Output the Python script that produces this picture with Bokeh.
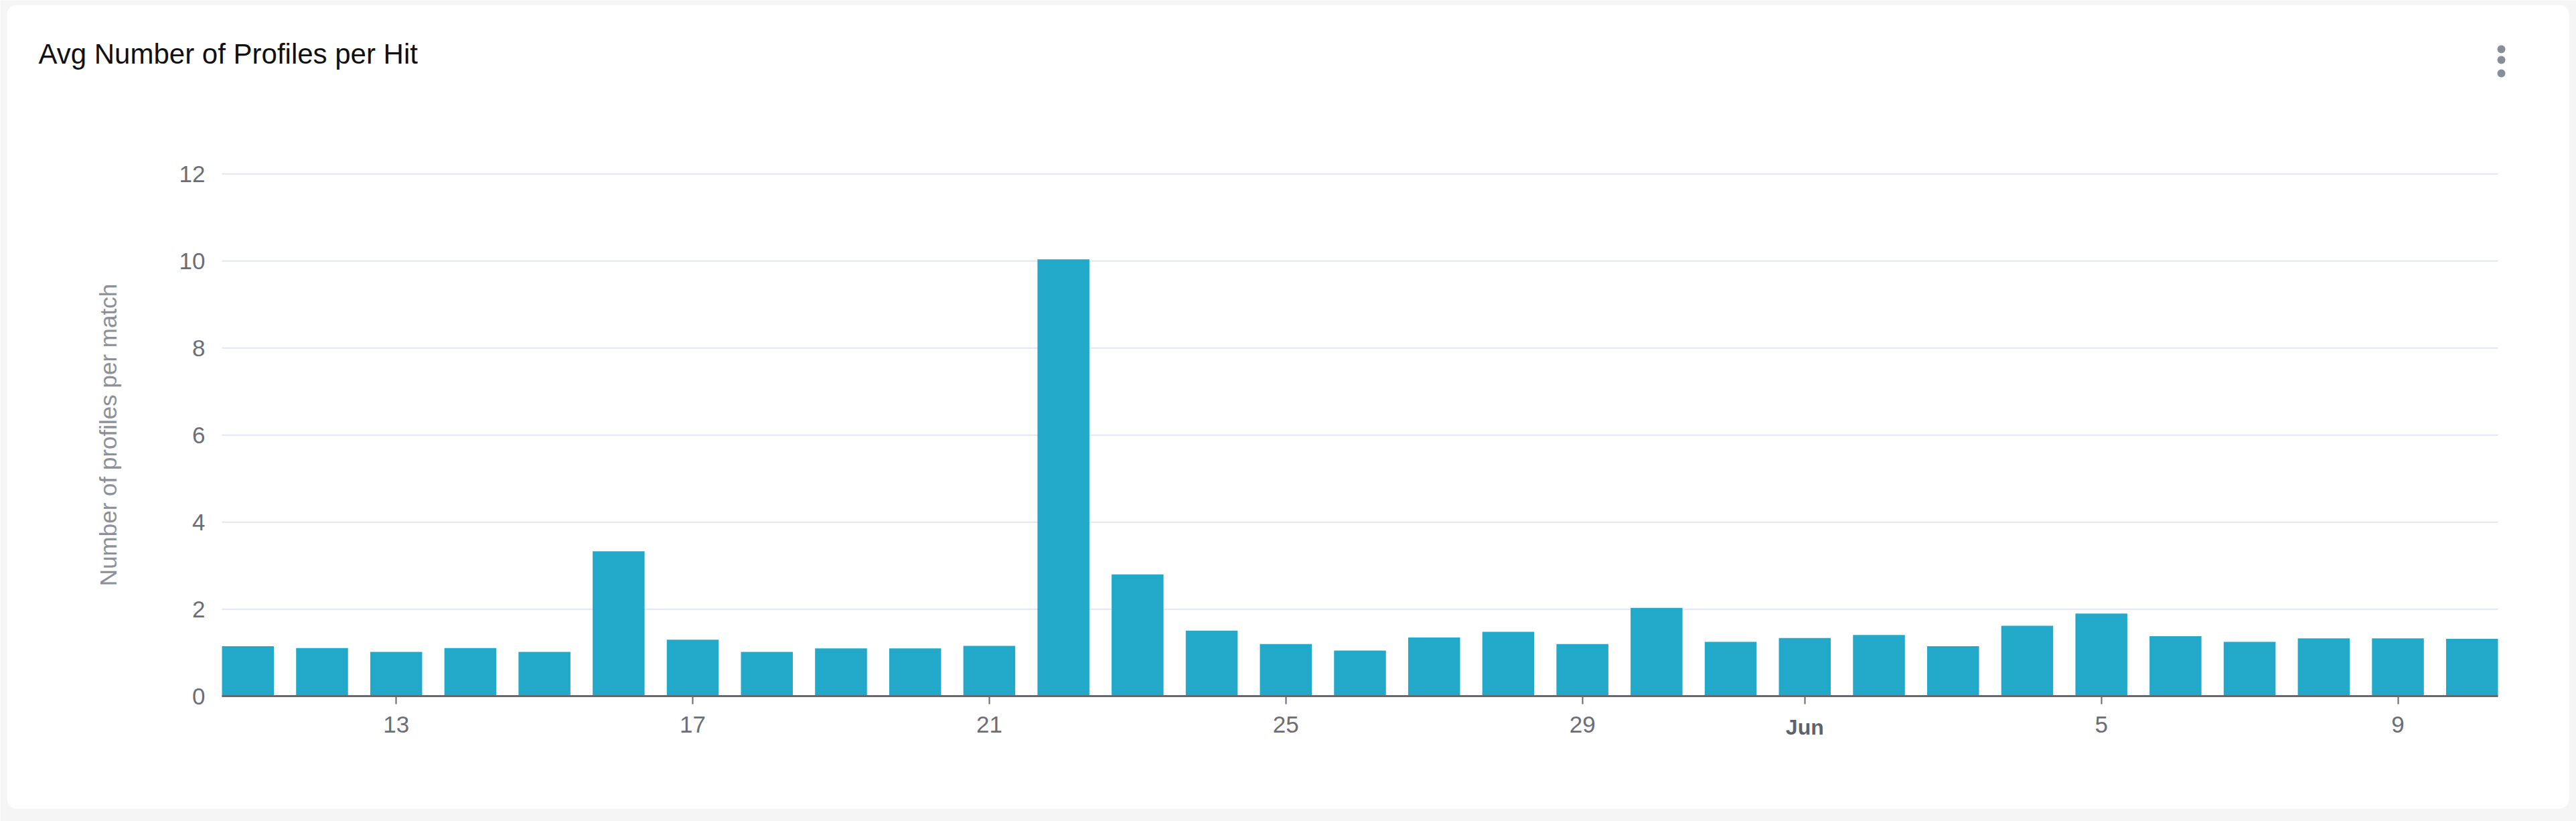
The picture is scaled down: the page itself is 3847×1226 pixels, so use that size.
import math
import pandas as pd
from bokeh.plotting import figure
from bokeh.models import (ColumnDataSource, Range1d, FixedTicker, Label,
                          LinearAxis, BoxAnnotation)
from bokeh.embed import file_html
from bokeh.resources import INLINE

# ---- data -------------------------------------------------------------
dates = [
    "2019-05-11", "2019-05-12", "2019-05-13", "2019-05-14", "2019-05-15",
    "2019-05-16", "2019-05-17", "2019-05-18", "2019-05-19", "2019-05-20",
    "2019-05-21", "2019-05-22", "2019-05-23", "2019-05-24", "2019-05-25",
    "2019-05-26", "2019-05-27", "2019-05-28", "2019-05-29", "2019-05-30",
    "2019-05-31", "2019-06-01", "2019-06-02", "2019-06-03", "2019-06-04",
    "2019-06-05", "2019-06-06", "2019-06-07", "2019-06-08", "2019-06-09",
    "2019-06-10",
]
profiles_per_match = [
    1.15, 1.11, 1.02, 1.11, 1.02, 3.33, 1.30, 1.02, 1.10, 1.10,
    1.16, 10.04, 2.80, 1.51, 1.20, 1.05, 1.35, 1.48, 1.20, 2.03,
    1.25, 1.34, 1.41, 1.15, 1.62, 1.90, 1.38, 1.25, 1.33, 1.33,
    1.32,
]
y_ticks = [0, 2, 4, 6, 8, 10, 12]
x_tick_dates = ["2019-05-13", "2019-05-17", "2019-05-21", "2019-05-25",
                "2019-05-29", "2019-06-01", "2019-06-05", "2019-06-09"]
x_tick_labels = ["13", "17", "21", "25", "29", "Jun", "5", "9"]
month_tick = "Jun"

title_text = "Avg Number of Profiles per Hit"
y_title = "Number of profiles per match"

# ---- layout / styles (pixels on the 3847 x 1226 canvas) ------------------
W, H = 3847, 1226
PLOT_L, PLOT_R = 331, 3730        # plot area left / right
PLOT_T, PLOT_B = 259.3, 1039.3    # y=12 / y=0
BAR_W = 0.7
FONT = "Liberation Sans"
BAR = "#22A8C9"
GRID = "#e0e6f4"
TICK_TXT = "#6b6e76"
AXIS_TXT = "#8c9099"
AXIS_LINE = "#666870"
PAGE_BG = "#f5f5f5"

t0 = pd.Timestamp(dates[0])
day = [(pd.Timestamp(d) - t0).days for d in dates]
tick_pos = [(pd.Timestamp(d) - t0).days for d in x_tick_dates]

# data extents of the plot area, extended so the frame fills the canvas
x_lo, x_hi = day[0] - BAR_W / 2, day[-1] + BAR_W / 2
px_x = (PLOT_R - PLOT_L) / (x_hi - x_lo)
y_lo, y_hi = y_ticks[0], y_ticks[-1]
px_y = (PLOT_B - PLOT_T) / (y_hi - y_lo)
x_range = Range1d(x_lo - PLOT_L / px_x, x_hi + (W - PLOT_R) / px_x)
y_range = Range1d(y_lo - (H - PLOT_B) / px_y, y_hi + PLOT_T / px_y)

src = ColumnDataSource(dict(x=day, v=profiles_per_match, date=dates))
grid_src = ColumnDataSource(dict(
    x0=[x_lo] * len(y_ticks), x1=[x_hi] * len(y_ticks), y=y_ticks))

p = figure(
    width=W, height=H, x_range=x_range, y_range=y_range,
    output_backend="svg", toolbar_location=None,
    min_border=0, min_border_left=0, min_border_right=0,
    min_border_top=0, min_border_bottom=0,
)
p.border_fill_color = PAGE_BG
p.background_fill_color = PAGE_BG
p.outline_line_color = None
p.grid.visible = False


def sy(y_canvas):
    return H - y_canvas


# white card
p.add_layout(BoxAnnotation(
    left=10, right=3836, top=sy(7), bottom=sy(1207),
    left_units="screen", right_units="screen",
    top_units="screen", bottom_units="screen",
    fill_color="white", fill_alpha=1.0, line_color=None,
    border_radius=14, level="image",
))

# horizontal grid lines over the plot area
p.segment(x0="x0", x1="x1", y0="y", y1="y", source=grid_src,
          line_color=GRID, line_width=2)

# bars
p.vbar(x="x", top="v", width=BAR_W, source=src,
       fill_color=BAR, line_color=None)

# y axis (labels only), anchored at the left edge of the plot area
p.yaxis.fixed_location = x_lo
p.yaxis.ticker = FixedTicker(ticks=y_ticks)
p.yaxis.axis_line_color = None
p.yaxis.major_tick_line_color = None
p.yaxis.minor_tick_line_color = None
p.yaxis.major_tick_out = 0
p.yaxis.major_tick_in = 0
p.yaxis.major_label_standoff = 25
p.yaxis.major_label_text_font = FONT
p.yaxis.major_label_text_font_size = "35px"
p.yaxis.major_label_text_color = TICK_TXT

# y axis title
p.add_layout(Label(
    x=161, y=sy(649), x_units="screen", y_units="screen", text=y_title,
    angle=math.pi / 2, text_font=FONT, text_font_size="35px",
    text_color=AXIS_TXT, text_align="center", text_baseline="alphabetic",
))

# x axis along y = 0
p.xaxis.fixed_location = y_lo
p.xaxis.bounds = (x_lo, x_hi)
p.xaxis.ticker = FixedTicker(ticks=tick_pos)
p.xaxis.major_label_overrides = {
    pos: ("" if lab == month_tick else lab)
    for pos, lab in zip(tick_pos, x_tick_labels)
}
p.xaxis.axis_line_color = AXIS_LINE
p.xaxis.axis_line_width = 3
p.xaxis.major_tick_line_color = AXIS_LINE
p.xaxis.major_tick_line_width = 2
p.xaxis.major_tick_out = 12
p.xaxis.major_tick_in = 0
p.xaxis.minor_tick_line_color = None
p.xaxis.major_label_standoff = 18
p.xaxis.major_label_text_font = FONT
p.xaxis.major_label_text_font_size = "35px"
p.xaxis.major_label_text_color = TICK_TXT

# bold month label drawn by a second axis at the same place
jun_pos = tick_pos[x_tick_labels.index(month_tick)]
month_axis = LinearAxis(
    fixed_location=y_lo,
    ticker=FixedTicker(ticks=[jun_pos]),
    major_label_overrides={jun_pos: month_tick},
    axis_line_color=None, major_tick_line_color=None,
    minor_tick_line_color=None,
    major_tick_out=12, major_tick_in=0, major_label_standoff=16,
    major_label_text_font=FONT, major_label_text_font_size="32px",
    major_label_text_font_style="bold", major_label_text_color="#5f626a",
)
p.add_layout(month_axis, "below")

# chart title
p.add_layout(Label(
    x=57, y=sy(80), x_units="screen", y_units="screen", text=title_text,
    text_font=FONT, text_font_size="42px", text_color="#111111",
    text_align="left", text_baseline="alphabetic",
))

# menu icon (three dots)
for cy in (73, 89, 109):
    p.add_layout(BoxAnnotation(
        left=3729, right=3741, top=sy(cy - 6), bottom=sy(cy + 6),
        left_units="screen", right_units="screen",
        top_units="screen", bottom_units="screen",
        fill_color="#868e96", fill_alpha=1.0, line_color=None,
        border_radius=6,
    ))

open("out.html", "w").write(file_html(p, INLINE))
